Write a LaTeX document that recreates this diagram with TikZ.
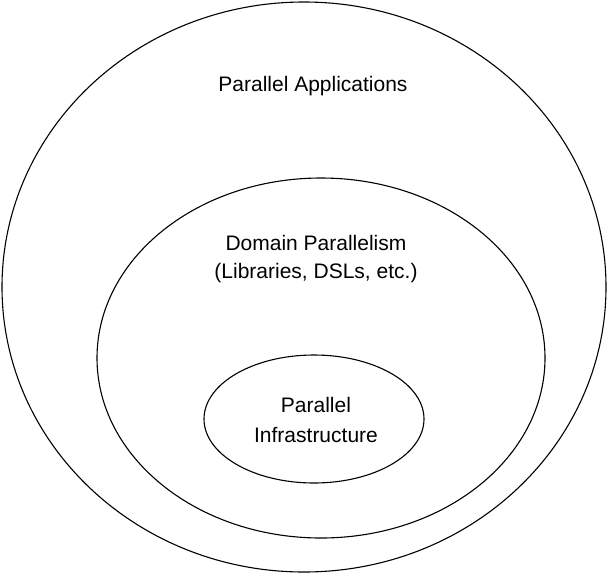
\documentclass[tikz,border=0pt]{standalone}
\usepackage{fontspec}
\setmainfont{Liberation Sans}
\usetikzlibrary{shapes.geometric}
\begin{document}
\begin{tikzpicture}[x=1pt,y=-1pt,
  ring/.style={draw=black,line width=1.1pt},
  lbl/.style={font=\fontsize{21}{30}\selectfont,align=center,inner sep=0pt}]
\useasboundingbox (0,0) rectangle (608,574);
\draw[ring] (304,287) ellipse [x radius=302, y radius=285];
\draw[ring] (321,358) ellipse [x radius=224, y radius=180];
\draw[ring] (314,419) ellipse [x radius=110, y radius=64];
\node[lbl] (apps) at (313,86) {Parallel Applications};
\node[lbl,font=\fontsize{21}{28}\selectfont] (dom) at (316,259) {Domain Parallelism\\(Libraries, DSLs, etc.)};
\node[lbl] (infra) at (316,420) {Parallel\\Infrastructure};
\end{tikzpicture}
\end{document}
